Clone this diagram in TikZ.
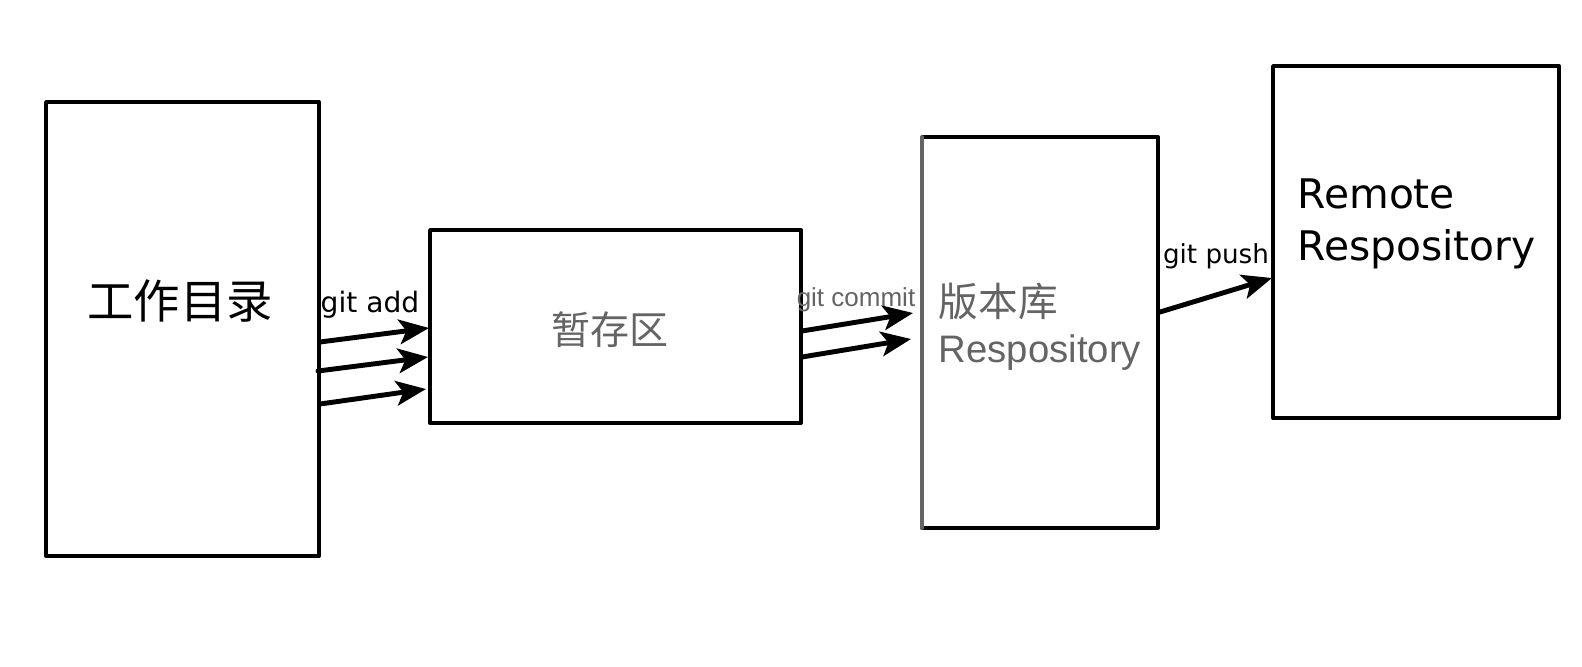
\documentclass[tikz,border=0pt]{standalone}
\usepackage{fontspec}
\usepackage{tkz-euclide}
\usetikzlibrary{arrows.meta}
\newfontfamily\cjk{Noto Sans CJK SC}
\newfontfamily\dejavu{DejaVu Sans}
\newfontfamily\libsans{Liberation Sans}
\definecolor{txtgray}{RGB}{100,100,100}
\tikzset{
  box/.style={line width=1.1pt},
  flow/.style={line width=1.4pt,-{Stealth[length=8.5pt,width=7pt,inset=2pt]}},
  cmdlabel/.style={inner sep=0pt},
}

\begin{document}
\begin{tikzpicture}
            \useasboundingbox (0,0) rectangle (15.82,6.66);
            % boxes
            \tkzDefPoints{0.46/1.10/W1, 3.19/1.10/W2, 3.19/5.64/W3, 0.46/5.64/W4}
            \tkzDefPoints{4.30/2.43/S1, 8.01/2.43/S2, 8.01/4.36/S3, 4.30/4.36/S4}
            \tkzDefPoints{9.22/1.38/R1, 11.58/1.38/R2, 11.58/5.29/R3, 9.22/5.29/R4}
            \tkzDefPoints{12.73/2.48/G1, 15.59/2.48/G2, 15.59/6.00/G3, 12.73/6.00/G4}
            \tkzDrawPolygon[box](W1,W2,W3,W4)
            \tkzDrawPolygon[box](S1,S2,S3,S4)
            \tkzDrawPolygon[box](R1,R2,R3,R4)
            \tkzDrawSegment[box,txtgray](R1,R4)
            \tkzDrawPolygon[box](G1,G2,G3,G4)
            % arrow ends
            \tkzDefPoints{3.20/3.24/aS1, 4.29/3.38/aE1, 3.18/2.95/aS2, 4.28/3.09/aE2,
                          3.20/2.62/aS3, 4.26/2.77/aE3}
            \tkzDefPoints{8.02/3.35/cS1, 9.13/3.53/cE1, 8.02/3.09/cS2, 9.11/3.27/cE2}
            \tkzDefPoints{11.60/3.54/pS1, 12.72/3.88/pE1}
            \tkzDrawSegments[flow](aS1,aE1 aS2,aE2 aS3,aE3)
            \tkzDrawSegments[flow](cS1,cE1 cS2,cE2)
            \tkzDrawSegment[flow](pS1,pE1)
            % texts
            \node[inner sep=0pt,font=\cjk\fontsize{13.2}{15}\selectfont] (wdir) at (1.80,3.65) {工作目录};
            \node[inner sep=0pt,text=txtgray,font=\cjk\fontsize{11.1}{13}\selectfont] (stage) at (6.10,3.36) {暂存区};
            \node[inner sep=0pt,anchor=west,text=txtgray,font=\cjk\fontsize{11.3}{13}\selectfont] (repoA) at (9.38,3.65) {版本库};
            \node[inner sep=0pt,anchor=west,text=txtgray,font=\libsans\fontsize{10.9}{13}\selectfont] (repoB) at (9.38,3.13) {Respository};
            \node[inner sep=0pt,anchor=west,align=left,font=\dejavu\fontsize{11.6}{14.8}\selectfont] (remote) at (12.97,4.42)
                 {Remote\\Respository};
            \node[cmdlabel,font=\dejavu\fontsize{8}{9}\selectfont] (add) at (3.70,3.61) {git add};
            \node[cmdlabel,text=txtgray,font=\libsans\fontsize{7.4}{9}\selectfont] (commit) at (8.56,3.66) {git commit};
            \node[cmdlabel,font=\dejavu\fontsize{7.45}{9}\selectfont] (push) at (12.16,4.10) {git push};
        \end{tikzpicture}
\end{document}
